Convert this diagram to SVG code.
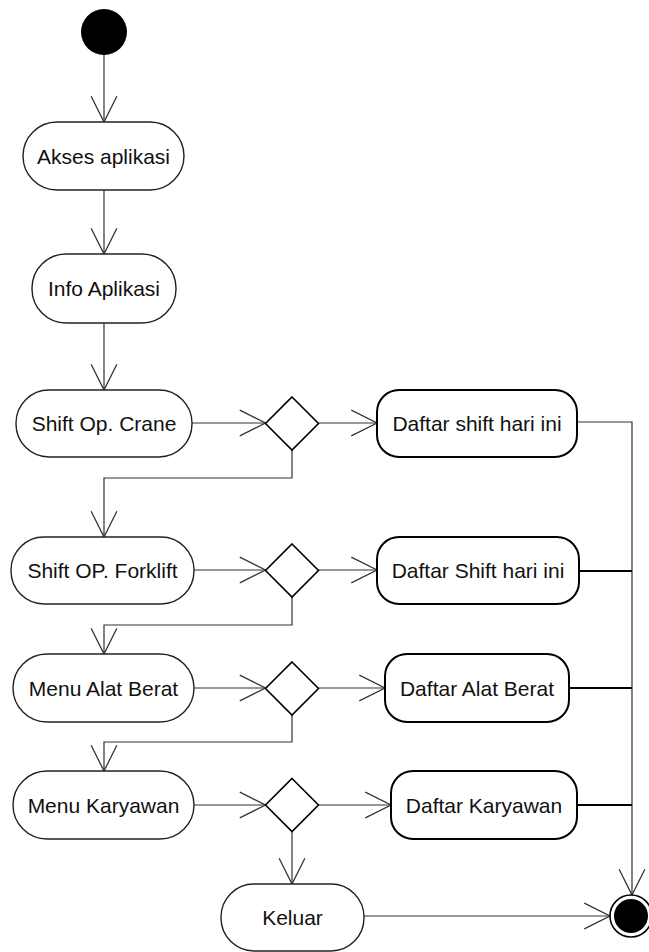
<svg xmlns="http://www.w3.org/2000/svg" width="649" height="952" viewBox="0 0 649 952">
<style>
.act{fill:#fff;stroke:#222;stroke-width:1.4}
.out{fill:#fff;stroke:#000;stroke-width:2}
.dec{fill:#fff;stroke:#000;stroke-width:1.6}
.c{fill:none;stroke:#333;stroke-width:1.2}
.ct{fill:none;stroke:#000;stroke-width:2}
text{font-family:"Liberation Sans",Arial,sans-serif;font-size:21px;fill:#111;text-anchor:middle}
</style>
<defs>
<marker id="a" markerUnits="userSpaceOnUse" markerWidth="30" markerHeight="30" viewBox="-26 -14 28 28" refX="0" refY="0" orient="auto">
<path d="M-24,-12 L0,0 L-24,12" fill="none" stroke="#333" stroke-width="1.2"/>
</marker>
</defs>
<g id="connectors">
<path class="c" d="M104,55 V122" marker-end="url(#a)"/>
<path class="c" d="M104,190 V254" marker-end="url(#a)"/>
<path class="c" d="M104,323 V390" marker-end="url(#a)"/>
<path class="c" d="M192,423 H265.5" marker-end="url(#a)"/>
<path class="c" d="M318.5,423 H377" marker-end="url(#a)"/>
<path class="c" d="M292,449.5 V478 H104 V537" marker-end="url(#a)"/>
<path class="c" d="M194,570 H265.5" marker-end="url(#a)"/>
<path class="c" d="M318.5,570 H377" marker-end="url(#a)"/>
<path class="c" d="M292,596.5 V625 H104 V654" marker-end="url(#a)"/>
<path class="c" d="M194,688 H265.5" marker-end="url(#a)"/>
<path class="c" d="M318.5,688 H385" marker-end="url(#a)"/>
<path class="c" d="M292,714.5 V742 H104 V771" marker-end="url(#a)"/>
<path class="c" d="M194,805 H265.5" marker-end="url(#a)"/>
<path class="c" d="M318.5,805 H391" marker-end="url(#a)"/>
<path class="c" d="M292,831.5 V884" marker-end="url(#a)"/>
<path class="c" d="M364,916 H610" marker-end="url(#a)"/>
<path class="c" d="M577,422 H632 V895" marker-end="url(#a)"/>
<path class="ct" d="M579,571 H632"/>
<path class="ct" d="M569,688 H632"/>
<path class="ct" d="M577,805 H632"/>
</g>
<g id="start"><circle cx="104" cy="32" r="23" fill="#000"/></g>
<g id="akses"><rect class="act" x="23" y="122" width="161" height="68" rx="34"/><text x="103.5" y="163.5">Akses aplikasi</text></g>
<g id="info"><rect class="act" x="32" y="254" width="144" height="69" rx="34"/><text x="104" y="296">Info Aplikasi</text></g>
<g id="crane"><rect class="act" x="16" y="390" width="176" height="67" rx="33"/><text x="104" y="431">Shift Op. Crane</text></g>
<g id="d1"><path class="dec" d="M292,397 L318.5,423.5 L292,450 L265.5,423.5 Z"/></g>
<g id="daftar1"><rect class="out" x="377" y="390" width="200" height="67" rx="22"/><text x="477" y="431">Daftar shift hari ini</text></g>
<g id="forklift"><rect class="act" x="11" y="537" width="183" height="67" rx="33"/><text x="102.5" y="578">Shift OP. Forklift</text></g>
<g id="d2"><path class="dec" d="M292,544 L318.5,570.5 L292,597 L265.5,570.5 Z"/></g>
<g id="daftar2"><rect class="out" x="377" y="537" width="202" height="67" rx="22"/><text x="478" y="578">Daftar Shift hari ini</text></g>
<g id="alat"><rect class="act" x="13" y="654" width="181" height="68" rx="34"/><text x="103.5" y="695.5">Menu Alat Berat</text></g>
<g id="d3"><path class="dec" d="M292,662 L318.5,688.5 L292,715 L265.5,688.5 Z"/></g>
<g id="daftar3"><rect class="out" x="385" y="654" width="184" height="68" rx="22"/><text x="477" y="695.5">Daftar Alat Berat</text></g>
<g id="karyawan"><rect class="act" x="13" y="771" width="181" height="68" rx="34"/><text x="103.5" y="812.5">Menu Karyawan</text></g>
<g id="d4"><path class="dec" d="M292,778.5 L318.5,805 L292,831.5 L265.5,805 Z"/></g>
<g id="daftar4"><rect class="out" x="391" y="771" width="186" height="68" rx="22"/><text x="484" y="812.5">Daftar Karyawan</text></g>
<g id="keluar"><rect class="act" x="221" y="884" width="143" height="67" rx="33"/><text x="292.5" y="925">Keluar</text></g>
<g id="end"><circle cx="631" cy="916" r="21" fill="#fff" stroke="#000" stroke-width="1.6"/><circle cx="631" cy="916" r="17" fill="#000"/></g>
</svg>
